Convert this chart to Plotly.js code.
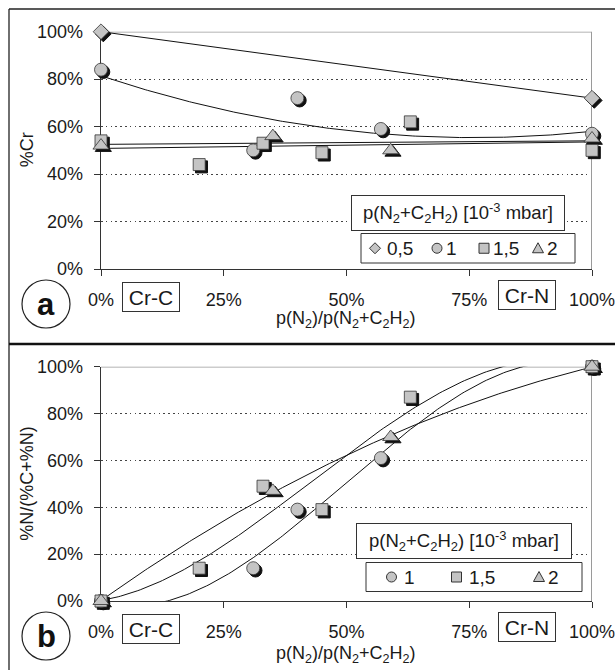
<!DOCTYPE html>
<html>
<head>
<meta charset="utf-8">
<script src="https://cdn.plot.ly/plotly-3.0.1.min.js"></script>
<style>html,body{margin:0;padding:0;background:#fff;}#chart{width:615px;height:670px;}</style>
</head>
<body>
<div id="chart"></div>
<script>
// ---------------- DATA ----------------
const xTickVals = [0, 25, 50, 75, 100];
const xTickText = ['0%', '25%', '50%', '75%', '100%'];
const yTickVals = [0, 20, 40, 60, 80, 100];
const yTickText = ['0%', '20%', '40%', '60%', '80%', '100%'];

const seriesNames = ['0,5', '1', '1,5', '2'];

// Panel a: %Cr vs p(N2)/p(N2+C2H2) [%]
const crX_05 = [0, 100];
const crY_05 = [100, 72];
const crX_1 = [0, 31, 40, 57, 100];
const crY_1 = [84, 50, 72, 59, 57];
const crX_15 = [0, 20, 33, 45, 63, 100];
const crY_15 = [54, 44, 53, 49, 62, 50];
const crX_2 = [0, 35, 59, 100];
const crY_2 = [52, 56, 50, 55];

// Panel b: %N/(%C+%N)
const nX_1 = [0, 31, 40, 57, 100];
const nY_1 = [0, 14, 39, 61, 100];
const nX_15 = [0, 20, 33, 45, 63, 100];
const nY_15 = [0, 14, 49, 39, 87, 100];
const nX_2 = [0, 35, 59, 100];
const nY_2 = [0, 47, 70, 100];

// trendline (polynomial) orders
const fitOrderA = [1, 2, 1, 1];
const fitOrderB = [3, 3, 2];

// ---------------- STYLE / LAYOUT ----------------
const W = 615, H = 670;
const FONT = 'Arial, "Liberation Sans", sans-serif';
const TXT = '#1a1a1a';
const MFILL = '#c4c4c4';
const px = v => v / W;
const py = v => 1 - v / H;
const X0 = 101, X1 = 592;
const A_TOP = 31.7, A_BOT = 269;
const B_TOP = 366.7, B_BOT = 601;
const SH = 2.3; // shadow offset px

function polyfit(xs, ys, n) {
  const m = n + 1;
  const A = [];
  for (let i = 0; i < m; i++) A.push(new Array(m + 1).fill(0));
  xs.forEach((xv, k) => {
    const x = xv / 100, y = ys[k];
    for (let i = 0; i < m; i++) {
      for (let j = 0; j < m; j++) A[i][j] += Math.pow(x, i + j);
      A[i][m] += y * Math.pow(x, i);
    }
  });
  for (let c = 0; c < m; c++) {
    let p = c;
    for (let r = c + 1; r < m; r++) if (Math.abs(A[r][c]) > Math.abs(A[p][c])) p = r;
    [A[c], A[p]] = [A[p], A[c]];
    for (let r = 0; r < m; r++) {
      if (r === c) continue;
      const f = A[r][c] / A[c][c];
      for (let k = c; k <= m; k++) A[r][k] -= f * A[c][k];
    }
  }
  const coef = A.map((row, i) => row[m] / row[i]);
  return x => coef.reduce((s, c, i) => s + c * Math.pow(x / 100, i), 0);
}

const symbols = ['diamond', 'circle', 'square', 'triangle-up'];
const sizes = [12, 13, 12, 14];

const traces = [];
function addSeries(xs, ys, order, symIdx, axes) {
  const f = polyfit(xs, ys, order);
  const tx = [], ty = [];
  for (let t = 0; t <= 100; t += 0.5) { tx.push(t); ty.push(f(t)); }
  traces.push({x: tx, y: ty, xaxis: axes.base[0], yaxis: axes.base[1], mode: 'lines',
    line: {color: '#111', width: 1}, hoverinfo: 'skip', showlegend: false});
  traces.push({x: xs, y: ys, xaxis: axes.sh[0], yaxis: axes.sh[1], mode: 'markers', cliponaxis: false,
    marker: {symbol: symbols[symIdx], size: sizes[symIdx], color: '#111', line: {color: '#111', width: 1}},
    hoverinfo: 'skip', showlegend: false});
  traces.push({x: xs, y: ys, xaxis: axes.mk[0], yaxis: axes.mk[1], mode: 'markers', cliponaxis: false,
    name: seriesNames[symIdx],
    marker: {symbol: symbols[symIdx], size: sizes[symIdx], color: MFILL, line: {color: '#333', width: 0.8}},
    showlegend: false});
}
const axA = {base: ['x', 'y'], sh: ['x3', 'y3'], mk: ['x5', 'y5']};
const axB = {base: ['x2', 'y2'], sh: ['x4', 'y4'], mk: ['x6', 'y6']};
addSeries(crX_05, crY_05, fitOrderA[0], 0, axA);
addSeries(crX_1, crY_1, fitOrderA[1], 1, axA);
addSeries(crX_15, crY_15, fitOrderA[2], 2, axA);
addSeries(crX_2, crY_2, fitOrderA[3], 3, axA);
addSeries(nX_1, nY_1, fitOrderB[0], 1, axB);
addSeries(nX_15, nY_15, fitOrderB[1], 2, axB);
addSeries(nX_2, nY_2, fitOrderB[2], 3, axB);

function xAxis(anchor) {
  return {domain: [px(X0), px(X1)], range: [0, 100], anchor: anchor,
    tickvals: xTickVals, ticktext: xTickText, ticks: 'outside', ticklen: 6, tickwidth: 1, tickcolor: '#333',
    showline: true, linecolor: '#333', linewidth: 1.3, showgrid: false, zeroline: false,
    ticklabelstandoff: 8, ticklabeloverflow: 'allow',
    tickfont: {family: FONT, size: 18, color: TXT}, fixedrange: true};
}
function yAxis(anchor, top, bot) {
  return {domain: [py(bot), py(top)], range: [0, 100], anchor: anchor,
    tickvals: yTickVals, ticktext: yTickText, ticks: 'outside', ticklen: 6, tickwidth: 1, tickcolor: '#333',
    showline: true, linecolor: '#333', linewidth: 1.3, showgrid: true, gridcolor: '#444', gridwidth: 1,
    griddash: '1.5px,3.3px', zeroline: false, ticklabelstandoff: 7, ticklabeloverflow: 'allow',
    tickfont: {family: FONT, size: 18, color: TXT}, fixedrange: true};
}
// hidden helper axes (shadow layer shifted by SH px, marker layer unshifted)
function hx(anchor, shift) { return {domain: [px(X0 + shift), px(X1 + shift)], range: [0, 100], anchor: anchor, visible: false, fixedrange: true}; }
function hy(anchor, top, bot, shift) { return {domain: [py(bot + shift), py(top + shift)], range: [0, 100], anchor: anchor, visible: false, fixedrange: true}; }

const xTitle = 'p(N<sub>2</sub>)/p(N<sub>2</sub>+C<sub>2</sub>H<sub>2</sub>)';
const legTitle = 'p(N<sub>2</sub>+C<sub>2</sub>H<sub>2</sub>) [10<sup>-3</sup> mbar]';

const annotations = [];
const shapes = [];
function txt(t, x, y, size, extra) {
  annotations.push(Object.assign({text: t, xref: 'paper', yref: 'paper', x: px(x), y: py(y),
    xanchor: 'center', yanchor: 'middle', showarrow: false, font: {family: FONT, size: size, color: TXT}}, extra || {}));
}
function box(t, cx, cy, w, h, size) {
  txt(t, cx, cy, size, {width: w, height: h, bordercolor: '#333', borderwidth: 1, bgcolor: '#fff', borderpad: 0});
}

// frame
shapes.push({type: 'line', xref: 'paper', yref: 'paper', x0: px(9), x1: 1.01, y0: py(9), y1: py(9), line: {color: '#222', width: 1.3}});
shapes.push({type: 'line', xref: 'paper', yref: 'paper', x0: px(9), x1: px(9), y0: py(9), y1: -0.01, line: {color: '#222', width: 1.3}});
shapes.push({type: 'line', xref: 'paper', yref: 'paper', x0: px(9), x1: 1.01, y0: py(344), y1: py(344), line: {color: '#111', width: 2.7}});
// plot area top/right borders
[['x', 'y'], ['x2', 'y2']].forEach(a => {
  shapes.push({type: 'line', xref: a[0], yref: a[1], x0: 0, x1: 100, y0: 100, y1: 100, layer: 'between', line: {color: '#9a9a9a', width: 1.6}});
  shapes.push({type: 'line', xref: a[0], yref: a[1], x0: 100, x1: 100, y0: 0, y1: 100, layer: 'between', line: {color: '#9a9a9a', width: 2}});
});

// panel labels
function panelLabel(letter, cx, cy) {
  shapes.push({type: 'circle', xref: 'paper', yref: 'paper', x0: px(cx - 24), x1: px(cx + 24), y0: py(cy + 24), y1: py(cy - 24), line: {color: '#222', width: 1.2}});
  txt('<b>' + letter + '</b>', cx, cy, 31, {font: {family: FONT, size: 31, color: '#111'}});
}
panelLabel('a', 46, 304);
panelLabel('b', 46, 636);

// axis titles
txt('%Cr', 27, (A_TOP + A_BOT) / 2, 18, {textangle: -90});
txt('%N/(%C+%N)', 27, (B_TOP + B_BOT) / 2, 18, {textangle: -90});
txt(xTitle, 346, 319, 18);
txt(xTitle, 346, 654, 18);

// Cr-C / Cr-N boxes
box('Cr-C', 151, 296.5, 56, 28, 21);
box('Cr-N', 527, 295, 56, 28, 21);
box('Cr-C', 151, 628.5, 56, 28, 21);
box('Cr-N', 527, 627, 56, 28, 21);

// legends (manual keys)
function keyShape(symIdx, cx, cy) {
  const base = {xref: 'paper', yref: 'paper', xsizemode: 'pixel', ysizemode: 'pixel', xanchor: px(cx), yanchor: py(cy),
    fillcolor: MFILL, line: {color: '#333', width: 1}};
  if (symIdx === 1) shapes.push(Object.assign({type: 'circle', x0: -5, x1: 5, y0: -5, y1: 5}, base));
  else if (symIdx === 2) shapes.push(Object.assign({type: 'rect', x0: -5, x1: 5, y0: -5, y1: 5}, base));
  else if (symIdx === 0) shapes.push(Object.assign({type: 'path', path: 'M0,5.5 L5.5,0 L0,-5.5 L-5.5,0 Z'}, base));
  else shapes.push(Object.assign({type: 'path', path: 'M-5.5,-4.5 L5.5,-4.5 L0,5.5 Z'}, base));
}
function legendRow(x0, x1, y0, y1, items) {
  shapes.push({type: 'rect', xref: 'paper', yref: 'paper', x0: px(x0), x1: px(x1), y0: py(y1), y1: py(y0), fillcolor: '#fff', line: {color: '#333', width: 1}});
  const cy = (y0 + y1) / 2;
  items.forEach(it => {
    keyShape(it[0], it[1], cy);
    txt(seriesNames[it[0]], it[2], cy, 19, {xanchor: 'left'});
  });
}
box(legTitle, 458, 213, 212, 34, 18.5);
legendRow(361, 575, 233.5, 263, [[0, 375, 385], [1, 437, 444], [2, 484, 491], [3, 538, 545]]);
box(legTitle, 464, 541, 214, 34, 18.5);
legendRow(366, 582, 562.5, 591.5, [[1, 391.5, 402], [2, 456.5, 467], [3, 539, 546]]);

const layout = {
  width: W, height: H, margin: {l: 0, r: 0, t: 0, b: 0},
  paper_bgcolor: '#fff', plot_bgcolor: 'rgba(0,0,0,0)', showlegend: false,
  font: {family: FONT, color: TXT},
  xaxis: xAxis('y'), yaxis: yAxis('x', A_TOP, A_BOT),
  xaxis2: xAxis('y2'), yaxis2: yAxis('x2', B_TOP, B_BOT),
  xaxis3: hx('y3', SH), yaxis3: hy('x3', A_TOP, A_BOT, SH),
  xaxis4: hx('y4', SH), yaxis4: hy('x4', B_TOP, B_BOT, SH),
  xaxis5: hx('y5', 0), yaxis5: hy('x5', A_TOP, A_BOT, 0),
  xaxis6: hx('y6', 0), yaxis6: hy('x6', B_TOP, B_BOT, 0),
  shapes: shapes, annotations: annotations
};
Plotly.newPlot('chart', traces, layout, {staticPlot: true, displayModeBar: false});
</script>
</body>
</html>
